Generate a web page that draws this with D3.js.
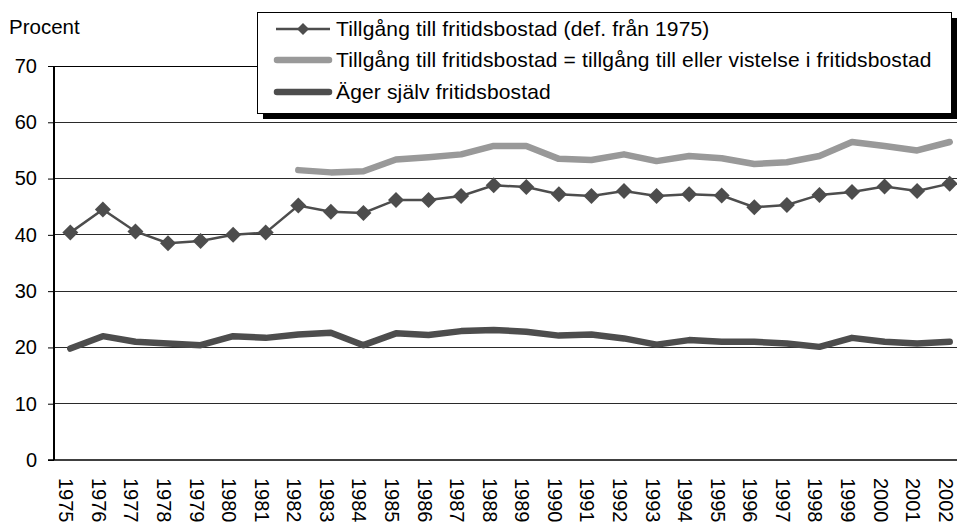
<!DOCTYPE html>
<html>
<head>
<meta charset="utf-8">
<script src="https://cdn.jsdelivr.net/npm/d3@7"></script>
<style>
  body { margin: 0; background: #fff; }
  svg text { font-family: Arial, "Liberation Sans", sans-serif; fill: #000; }
</style>
</head>
<body>
<svg id="drawing_region"></svg>
<script>
const years = d3.range(1975, 2003).map(String);

// Tillgång till fritidsbostad (def. från 1975)
const tillgang = [40.4, 44.5, 40.6, 38.5, 38.9, 40.0, 40.4, 45.2, 44.1, 43.9,
  46.2, 46.2, 46.9, 48.8, 48.5, 47.2, 46.9, 47.8, 46.9, 47.2,
  47.0, 44.9, 45.3, 47.1, 47.6, 48.6, 47.8, 49.1];

// Tillgång eller vistelse (från 1982)
const vistYears = d3.range(1982, 2003).map(String);
const vistelse = [51.5, 51.1, 51.3, 53.4, 53.8, 54.3, 55.8, 55.8, 53.5, 53.3,
  54.3, 53.1, 54.0, 53.6, 52.6, 52.9, 54.0, 56.5, 55.8, 55.0, 56.5];

// Äger själv fritidsbostad
const ager = [19.8, 22.0, 21.0, 20.7, 20.4, 22.0, 21.7, 22.3, 22.6, 20.4,
  22.5, 22.2, 22.9, 23.1, 22.8, 22.1, 22.3, 21.6, 20.5, 21.3,
  21.0, 21.0, 20.7, 20.1, 21.7, 21.0, 20.7, 21.0];

const yTicks = [0, 10, 20, 30, 40, 50, 60, 70];
const legendLabels = [
  "Tillgång till fritidsbostad (def. från 1975)",
  "Tillgång till fritidsbostad = tillgång till eller vistelse i fritidsbostad",
  "Äger själv fritidsbostad"
];

const config = {
  width: 957,
  height: 524,
  left: 54,
  right: 966,
  top: 66,
  bottom: 460
};

const svg = d3.select('#drawing_region')
  .attr('width', config.width)
  .attr('height', config.height);

const xscale = d3.scaleBand()
  .domain(years)
  .range([config.left, config.right]);
const xc = d => xscale(d) + xscale.bandwidth() / 2;

const yscale = d3.scaleLinear()
  .domain([0, 70])
  .range([config.bottom, config.top]);

// grid lines
svg.append('g')
  .selectAll('line')
  .data(yTicks.filter(t => t > 0))
  .join('line')
  .attr('x1', config.left)
  .attr('x2', config.width)
  .attr('y1', d => yscale(d))
  .attr('y2', d => yscale(d))
  .attr('stroke', d => d == 70 ? '#000' : '#2a2a2a')
  .attr('stroke-width', 1)
  .attr('shape-rendering', 'crispEdges');

// y axis
const yaxis = d3.axisLeft(yscale)
  .tickValues(yTicks)
  .tickSize(6)
  .tickPadding(11);
const yaxis_group = svg.append('g')
  .attr('transform', `translate(${config.left}, 0)`)
  .call(yaxis);
yaxis_group.select('.domain').remove();
yaxis_group.selectAll('.tick line').attr('stroke', '#000');
yaxis_group.selectAll('.tick text')
  .attr('font-size', 20)
  .attr('font-family', 'Arial, "Liberation Sans", sans-serif');

// x axis baseline and labels
svg.append('line')
  .attr('x1', config.left - 6)
  .attr('x2', config.width)
  .attr('y1', config.bottom)
  .attr('y2', config.bottom)
  .attr('stroke', '#000')
  .attr('stroke-width', 1.5);

svg.append('line')
  .attr('x1', config.left)
  .attr('x2', config.left)
  .attr('y1', config.top)
  .attr('y2', config.bottom)
  .attr('stroke', '#000')
  .attr('stroke-width', 2);

svg.append('g')
  .selectAll('text')
  .data(years)
  .join('text')
  .attr('transform', d => `translate(${xc(d) - 4}, 478) rotate(90)`)
  .attr('dy', '0.35em')
  .attr('font-size', 20)
  .text(d => d);

svg.append('text')
  .attr('x', 9)
  .attr('y', 34)
  .attr('font-size', 20.5)
  .text('Procent');

// lines
const line = d3.line()
  .x(d => xc(d.year))
  .y(d => yscale(d.value));

const vistData = vistYears.map((y, i) => ({year: y, value: vistelse[i]}));
const agerData = years.map((y, i) => ({year: y, value: ager[i]}));
const tillData = years.map((y, i) => ({year: y, value: tillgang[i]}));

svg.append('path')
  .datum(vistData)
  .attr('d', line)
  .attr('fill', 'none')
  .attr('stroke', '#999999')
  .attr('stroke-width', 6.5)
  .attr('stroke-linecap', 'round')
  .attr('stroke-linejoin', 'round');

svg.append('path')
  .datum(agerData)
  .attr('d', line)
  .attr('fill', 'none')
  .attr('stroke', '#4d4d4d')
  .attr('stroke-width', 6.5)
  .attr('stroke-linecap', 'round')
  .attr('stroke-linejoin', 'round');

svg.append('path')
  .datum(tillData)
  .attr('d', line)
  .attr('fill', 'none')
  .attr('stroke', '#4d4d4d')
  .attr('stroke-width', 2.5);

function diamond(r) {
  return `M0,${-r}L${r},0L0,${r}L${-r},0Z`;
}

svg.append('g')
  .selectAll('path')
  .data(tillData)
  .join('path')
  .attr('transform', d => `translate(${xc(d.year)}, ${yscale(d.value)})`)
  .attr('d', diamond(8))
  .attr('fill', '#4d4d4d');

// legend
const legend = svg.append('g');
legend.append('rect')
  .attr('x', 263).attr('y', 18)
  .attr('width', 694).attr('height', 101)
  .attr('fill', '#000');
legend.append('rect')
  .attr('x', 257.5).attr('y', 12.5)
  .attr('width', 694).attr('height', 101)
  .attr('fill', '#fff')
  .attr('stroke', '#000')
  .attr('stroke-width', 1);

const rowY = [29, 60, 92];
const rows = legend.selectAll('g.row')
  .data(legendLabels)
  .join('g')
  .attr('class', 'row')
  .attr('transform', (d, i) => `translate(0, ${rowY[i]})`);

rows.append('line')
  .attr('x1', (d, i) => i == 0 ? 276 : 277)
  .attr('x2', (d, i) => i == 0 ? 330 : 329)
  .attr('stroke', (d, i) => i == 1 ? '#999999' : '#4d4d4d')
  .attr('stroke-width', (d, i) => i == 0 ? 2.5 : 6.5)
  .attr('stroke-linecap', (d, i) => i == 0 ? 'butt' : 'round');

rows.filter((d, i) => i == 0)
  .append('path')
  .attr('transform', 'translate(303, 0)')
  .attr('d', diamond(6))
  .attr('fill', '#4d4d4d');

rows.append('text')
  .attr('x', 336)
  .attr('dy', '0.35em')
  .attr('font-size', 21)
  .attr('letter-spacing', 0.15)
  .text(d => d);
</script>
</body>
</html>
